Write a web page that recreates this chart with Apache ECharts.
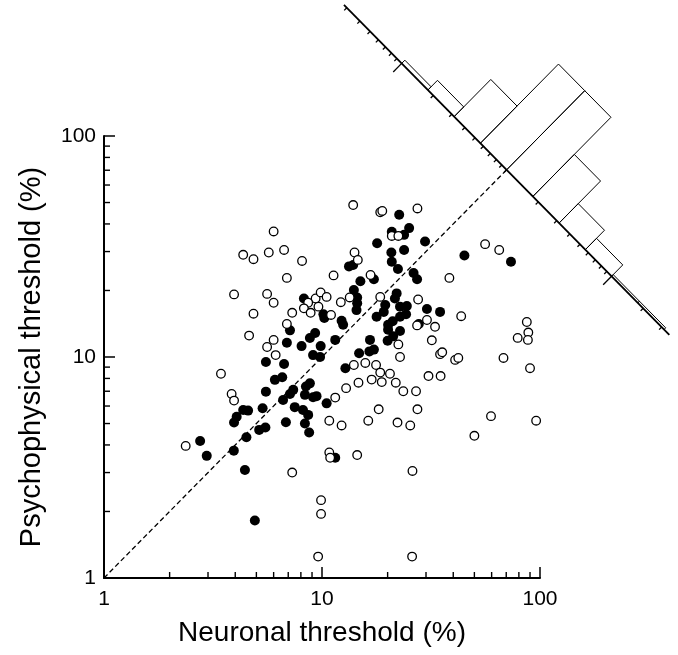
<!DOCTYPE html>
<html>
<head>
<meta charset="utf-8">
<script src="https://cdn.jsdelivr.net/npm/echarts@6/dist/echarts.min.js"></script>
<style>
html,body{margin:0;padding:0;background:#fff;}
#chart{width:678px;height:655px;}
</style>
</head>
<body>
<div id="chart"></div>
<script>
// ---- data ----
const majorTicks = [1, 10, 100];
const minorTicks = [2,3,4,5,6,7,8,9,20,30,40,50,60,70,80,90];

// [neuronal threshold %, psychophysical threshold %]
const filledPoints = [
[13.3,25.7],[13.9,26.1],[8.26,18.4],[10.15,15.6],[10.25,15.0],[12.3,14.6],[12.5,14.0],[7.13,13.2],[8.8,12.2],[9.3,12.85],
[11.5,11.95],[6.9,11.6],[8.06,11.2],[9.86,11.2],[9.1,10.2],[9.8,10.0],[5.53,9.5],[6.7,9.3],[12.8,8.9],[6.57,8.1],
[6.08,7.88],[8.8,7.6],[8.44,7.35],[7.38,7.1],[7.13,6.8],[5.53,6.97],[8.35,6.74],[9.1,6.58],[9.44,6.65],[6.63,6.39],
[10.5,6.17],[7.5,5.93],[8.18,5.76],[8.64,5.47],[5.34,5.86],[4.35,5.76],[4.58,5.72],[4.06,5.37],[3.95,5.05],[6.83,5.07],
[8.35,5.0],[5.15,4.68],[5.5,4.8],[8.73,4.55],[4.5,4.33],[2.76,4.17],[2.96,3.57],[3.94,3.77],[4.43,3.08],[4.92,1.82],
[22.6,44],[20.9,36.9],[23.8,35.7],[25.1,38.3],[17.9,32.7],[29.7,33.3],[20.8,29.7],[23.8,30.5],[20.9,27.0],[22.3,25.0],
[17.3,22.5],[15,22],[26.3,24],[27.3,22.5],[14,20.1],[14.5,18.6],[14.5,17.5],[14.4,16.3],[22,19.4],[21.6,18.4],
[19.5,17.2],[22.8,16.9],[24.5,17.0],[30.3,16.5],[34.8,16.0],[17.8,15.2],[19.2,16.0],[24.3,15.6],[22.8,15.2],[27.8,14.1],
[20.1,14.0],[21.1,14.5],[20.1,13.3],[22.8,13.1],[21.2,12.4],[20,11.85],[16.6,11.95],[17.3,10.8],[16.5,10.6],[14.8,10.4],
[45,28.8],[73.6,27.0],[11.5,3.5]
];
const openPoints = [
[6.0,37],[4.35,29],[4.85,27.7],[5.7,29.7],[6.7,30.5],[8.1,27.2],[6.9,22.8],[11.3,23.4],[13.9,48.7],[3.95,19.2],
[5.6,19.3],[6.0,17.6],[4.85,15.7],[9.35,18.4],[9.86,19.6],[10.5,18.7],[8.64,17.6],[8.26,16.6],[8.87,15.85],[9.63,16.9],
[12.2,17.7],[13.4,18.6],[11.0,15.5],[7.3,15.85],[6.9,14.1],[4.63,12.5],[6.0,11.95],[5.6,11.1],[6.13,10.2],[3.44,8.4],
[12.9,7.23],[3.85,6.8],[3.95,6.35],[11.5,6.55],[10.8,5.15],[12.3,4.9],
[18.5,45.2],[18.9,45.8],[27.4,47],[20.9,35.3],[22.4,35.3],[14.1,29.7],[14.6,27.5],[16.7,23.5],[18.5,18.7],[27.6,18.2],
[43.5,15.3],[30.3,14.7],[33,13.7],[27.3,13.9],[31.9,11.9],[22.4,11.4],[87,14.4],[88.4,12.9],[79,12.2],[88,11.95],
[56,32.4],[65,30.5],[38.4,22.8],[34.8,10.3],[35.6,10.5],[40.8,9.7],[42.2,9.9],[68,9.9],[90,8.9],[22.8,10],
[14,9.2],[15.8,9.4],[17.7,9.2],[18.5,8.5],[20.5,8.4],[16.9,7.9],[18.8,7.7],[21.8,7.65],[14.7,7.65],[30.8,8.2],
[35,8.2],[23.6,7.0],[27,7.0],[18.2,5.8],[27.4,5.8],[16.3,5.15],[22.2,5.05],[25.4,4.9],[59.6,5.4],[96,5.15],
[2.37,3.96],[7.3,3.0],[9.6,1.25],[25.9,1.25],[9.9,2.25],[9.9,1.95],[10.8,3.7],[10.9,3.5],[14.5,3.6],[26,3.05],[50,4.4]
];

// unity line end (where it meets the histogram axis)
const unityLine = [[1, 1], [70.3, 70.3]];

// histogram of log10(neuronal / psychophysical threshold)
const histBinStart = [-1.0,-0.75,-0.5,-0.25,0,0.25,0.5,0.75,1.0,1.25];
const histCounts   = [2, 6, 23, 49, 49, 26, 12, 7, 1, 1];
const histBinWidth = 0.25;
const histAxisRange = [-1.55, 1.55];
const histMinorTicks = [0.03,0.04,0.05,0.06,0.07,0.08,0.09,0.2,0.3,0.4,0.5,0.6,0.7,0.8,0.9,1,2,3,4,5,6,7,8,9,20,30];
const histMajorTicks = [0.1, 10];

// ---- layout constants for the rotated histogram (log-space geometry) ----
const HC = Math.log10(70.3);  // centre of the histogram axis on the unity line
const HS = 0.963;             // scale along the histogram axis
const HK = 0.00731;           // per-count height (log units on each axis)

function histPoint(api, rho, h) {
  return api.coord([
    Math.pow(10, HC + rho * HS / 2 + h * HK),
    Math.pow(10, HC - rho * HS / 2 + h * HK)
  ]);
}

const FONT = 'Liberation Sans';
const MINOR_LEN = 6;

const chart = echarts.init(document.getElementById('chart'), null, {renderer: 'canvas'});

const option = {
  backgroundColor: '#fff',
  animation: false,
  grid: {left: 104, right: 138, top: 136, bottom: 77, containLabel: false},
  xAxis: {
    type: 'log', logBase: 10, min: 1, max: 100, splitLine: {show: false},
    name: 'Neuronal threshold (%)', nameLocation: 'middle', nameGap: 41,
    nameTextStyle: {fontFamily: FONT, fontSize: 28, color: '#000'},
    axisLine: {lineStyle: {color: '#000', width: 2}},
    axisTick: {inside: true, length: 11, lineStyle: {color: '#000', width: 1.5}},
    axisLabel: {fontFamily: FONT, fontSize: 21, color: '#000', margin: 11}
  },
  yAxis: {
    type: 'log', logBase: 10, min: 1, max: 100, splitLine: {show: false},
    name: 'Psychophysical threshold (%)', nameLocation: 'middle', nameGap: 58,
    nameTextStyle: {fontFamily: FONT, fontSize: 29, color: '#000'},
    axisLine: {lineStyle: {color: '#000', width: 2}},
    axisTick: {inside: true, length: 11, lineStyle: {color: '#000', width: 1.5}},
    axisLabel: {fontFamily: FONT, fontSize: 21, color: '#000', margin: 8}
  },
  series: [
    {
      type: 'line', data: unityLine, symbol: 'none', silent: true, z: 1,
      lineStyle: {color: '#000', width: 1.3, type: [5, 3]}
    },
    {
      type: 'scatter', data: filledPoints, symbol: 'circle', symbolSize: 10, z: 3,
      itemStyle: {color: '#000', opacity: 1}
    },
    {
      type: 'scatter', data: openPoints, symbol: 'circle', symbolSize: 8.6, z: 4,
      itemStyle: {color: '#fff', borderColor: '#000', borderWidth: 1.3, opacity: 1}
    },
    {
      // histogram bars
      type: 'custom', clip: false, z: 5, silent: true,
      data: histCounts.map((c, i) => [histBinStart[i], histBinStart[i] + histBinWidth, c]),
      encode: {x: 2, y: 2},
      renderItem: function (params, api) {
        const r0 = api.value(0), r1 = api.value(1), h = api.value(2);
        const pts = [histPoint(api, r0, 0), histPoint(api, r0, h), histPoint(api, r1, h), histPoint(api, r1, 0)];
        return {
          type: 'polygon', shape: {points: pts},
          style: {fill: null, stroke: '#000', lineWidth: 1}
        };
      }
    },
    {
      // histogram axis line
      type: 'custom', clip: false, z: 6, silent: true,
      data: [[histAxisRange[0], histAxisRange[1], 1]],
      encode: {x: 2, y: 2},
      renderItem: function (params, api) {
        const a = histPoint(api, api.value(0), 0), b = histPoint(api, api.value(1), 0);
        return {
          type: 'line', shape: {x1: a[0], y1: a[1], x2: b[0], y2: b[1]},
          style: {stroke: '#000', lineWidth: 1.8}
        };
      }
    },
    {
      // histogram axis ticks (minor)
      type: 'custom', clip: false, z: 6, silent: true,
      data: histMinorTicks.map(v => [v, 1]),
      encode: {x: 0, y: 0},
      renderItem: function (params, api) {
        const rho = Math.log10(api.value(0));
        const a = histPoint(api, rho, 0), b = histPoint(api, rho, -1.6);
        return {
          type: 'line', shape: {x1: a[0], y1: a[1], x2: b[0], y2: b[1]},
          style: {stroke: '#000', lineWidth: 1.3}
        };
      }
    },
    {
      // histogram axis ticks (major)
      type: 'custom', clip: false, z: 6, silent: true,
      data: histMajorTicks.map(v => [v, 1]),
      encode: {x: 0, y: 0},
      renderItem: function (params, api) {
        const rho = Math.log10(api.value(0));
        const a = histPoint(api, rho, 0), b = histPoint(api, rho, -5.3);
        return {
          type: 'line', shape: {x1: a[0], y1: a[1], x2: b[0], y2: b[1]},
          style: {stroke: '#000', lineWidth: 1.3}
        };
      }
    },
    {
      // minor ticks of the two main log axes (2..9, 20..90), inside the frame
      type: 'custom', clip: false, z: 10, silent: true,
      data: minorTicks.map(v => [v, v]),
      encode: {x: 0, y: 1},
      renderItem: function (params, api) {
        const v = api.value(0);
        const origin = api.coord([1, 1]);
        const px = api.coord([v, v]);
        return {
          type: 'group',
          children: [
            {type: 'line', shape: {x1: px[0], y1: origin[1], x2: px[0], y2: origin[1] - MINOR_LEN},
             style: {stroke: '#000', lineWidth: 1.4}},
            {type: 'line', shape: {x1: origin[0], y1: px[1], x2: origin[0] + MINOR_LEN, y2: px[1]},
             style: {stroke: '#000', lineWidth: 1.4}}
          ]
        };
      }
    }
  ]
};
chart.setOption(option);
</script>
</body>
</html>
